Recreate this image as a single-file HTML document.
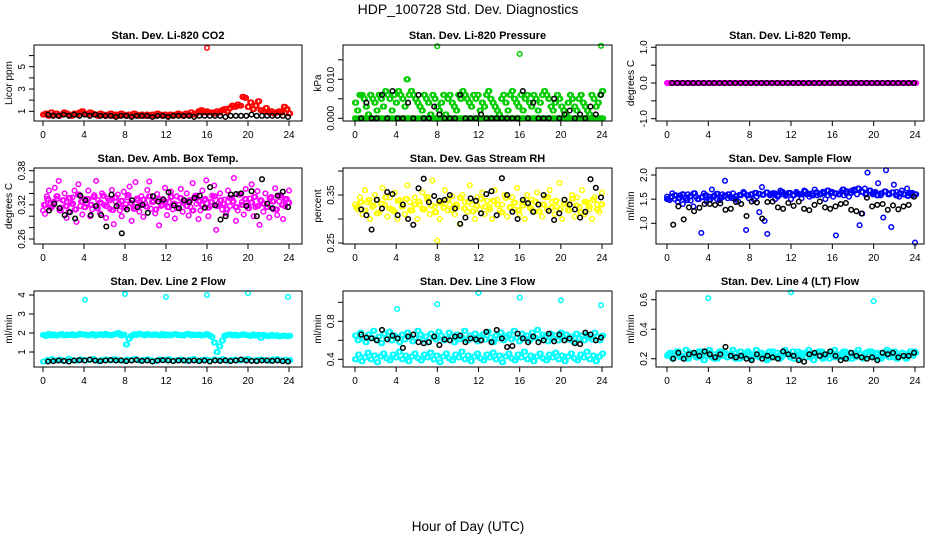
<!DOCTYPE html>
<html><head><meta charset="utf-8"><style>
html,body{margin:0;padding:0;background:#fff;}
svg{display:block;font-family:"Liberation Sans",sans-serif;}
</style></head><body>
<svg id="chart" width="936" height="540" viewBox="0 0 936 540">
<text x="468" y="14" text-anchor="middle" font-size="14">HDP_100728  Std. Dev. Diagnostics</text>
<text x="468" y="531" text-anchor="middle" font-size="13.5">Hour of Day (UTC)</text>
</svg>
<script>
// ---- data ----
const xTicks = [0,4,8,12,16,20,24];
// CO2
const co2Color = [0.7,0.8,0.6,0.9,0.7,0.8,0.6,0.7,0.9,0.8,0.7,0.6,0.8,0.7,0.9,1.0,0.8,0.7,0.9,0.8,0.7,0.6,0.8,0.7,0.6,0.7,0.8,0.6,0.7,0.6,0.8,0.7,0.6,0.7,0.6,0.8,0.7,0.6,0.7,0.6,0.7,0.6,0.7,0.6,0.8,0.7,0.6,0.7,0.6,0.7,0.6,0.7,0.8,0.7,0.6,0.8,0.7,0.9,0.7,0.8,1.0,1.1,0.9,1.0,0.9,0.9,0.8,1.0,0.9,1.1,1.2,1.0,1.3,1.5,1.4,1.6,1.5,2.3,2.2,1.4,1.8,1.2,1.5,1.9,1.1,1.0,1.3,0.9,1.0,0.8,0.9,1.0,0.9,1.4,1.2,0.8];
const co2OutHours = [16.0];
const co2Out = [6.7];
const co2Black = [0.7,0.6,0.6,0.7,0.6,0.7,0.6,0.7,0.6,0.7,0.6,0.6,0.6,0.5,0.6,0.6,0.5,0.6,0.6,0.6,0.5,0.6,0.6,0.5,0.6,0.6,0.6,0.6,0.5,0.6,0.6,0.6,0.6,0.6,0.5,0.6,0.6,0.6,0.6,0.7,0.6,0.6,0.6,0.6,0.6,0.6,0.5];
// Pressure
const presColor = [0.004,0.002,0.006,0.006,0.005,0.003,0.001,0.006,0.005,0.004,0.002,0.006,0.005,0.003,0.007,0.006,0.005,0.002,0.006,0.004,0.007,0.006,0.005,0.003,0.010,0.006,0.007,0.006,0.005,0.004,0.003,0.002,0.006,0.005,0.004,0.001,0.006,0.005,0.003,0.002,0.004,0.006,0.001,0.005,0.006,0.004,0.003,0.002,0.006,0.005,0.007,0.006,0.005,0.004,0.003,0.006,0.005,0.006,0.002,0.004,0.003,0.006,0.007,0.005,0.004,0.003,0.002,0.001,0.005,0.006,0.004,0.002,0.006,0.007,0.005,0.004,0.003,0.006,0.002,0.005,0.006,0.004,0.003,0.006,0.005,0.002,0.004,0.006,0.007,0.006,0.005,0.003,0.002,0.004,0.006,0.005,0.003,0.002,0.001,0.004,0.006,0.005,0.003,0.002,0.005,0.006,0.004,0.003,0.002,0.001,0.006,0.005,0.003,0.004,0.006,0.007];
const presZero = [0,0,0,0,0,0,0,0,0,0,0,0,0,0,0,0,0,0,0,0,0,0,0,0,0,0,0,0,0,0,0,0,0,0,0,0,0,0,0,0,0,0,0,0,0,0,0,0,0,0,0,0,0,0,0,0,0,0,0,0,0,0,0,0,0,0,0,0,0,0,0,0,0,0,0,0,0,0,0,0,0,0,0,0,0,0,0,0,0,0,0,0,0,0,0,0];
const presOutHours = [8.0,16.0,23.9];
const presOut = [0.0185,0.0165,0.0186];
const presBlack = [0,0.004,0,0,0.006,0,0.007,0,0,0.004,0,0.006,0,0,0.003,0.001,0,0,0,0.006,0,0,0,0.001,0,0,0,0,0,0,0,0.007,0,0.004,0,0,0,0.005,0,0.001,0.002,0,0.001,0,0.003,0.001,0.006];
// Li-820 Temp
const tempColor = [0,0,0,0,0,0,0,0,0,0,0,0,0,0,0,0,0,0,0,0,0,0,0,0,0,0,0,0,0,0,0,0,0,0,0,0,0,0,0,0,0,0,0,0,0,0,0,0,0,0,0,0,0,0,0,0,0,0,0,0,0,0,0,0,0,0,0,0,0,0,0,0,0,0,0,0,0,0,0,0,0,0,0,0,0,0,0,0,0,0,0,0,0,0,0,0];
const tempBlack = [0,0,0,0,0,0,0,0,0,0,0,0,0,0,0,0,0,0,0,0,0,0,0,0,0,0,0,0,0,0,0,0,0,0,0,0,0,0,0,0,0,0,0,0,0,0,0];
// Amb box temp
const ambColor = [0.310,0.304,0.335,0.345,0.322,0.318,0.350,0.330,0.362,0.315,0.328,0.340,0.297,0.308,0.325,0.333,0.345,0.290,0.356,0.318,0.303,0.330,0.322,0.345,0.300,0.312,0.337,0.362,0.328,0.305,0.340,0.320,0.297,0.331,0.313,0.346,0.286,0.325,0.338,0.310,0.300,0.343,0.321,0.333,0.352,0.292,0.317,0.360,0.328,0.308,0.335,0.299,0.322,0.346,0.361,0.313,0.327,0.305,0.339,0.284,0.318,0.330,0.350,0.302,0.325,0.343,0.312,0.296,0.335,0.320,0.348,0.308,0.327,0.340,0.301,0.316,0.358,0.334,0.322,0.295,0.310,0.345,0.328,0.363,0.300,0.318,0.336,0.354,0.276,0.322,0.340,0.312,0.329,0.305,0.345,0.318,0.332,0.367,0.292,0.310,0.339,0.325,0.303,0.348,0.319,0.331,0.356,0.300,0.316,0.344,0.285,0.327,0.308,0.340,0.322,0.298,0.334,0.312,0.349,0.302,0.326,0.337,0.295,0.317,0.330,0.345];
const ambColor2 = [0.320,0.330,0.315,0.325,0.335,0.310,0.328,0.318,0.332,0.322,0.312,0.338,0.326,0.316,0.330,0.320,0.334,0.314,0.324,0.336,0.318,0.328,0.311,0.333,0.321,0.327,0.315,0.337,0.323,0.313,0.331,0.319,0.329,0.317,0.335,0.325,0.312,0.330,0.320,0.326,0.316,0.334,0.322,0.314,0.332,0.324,0.318,0.328,0.310,0.336,0.326,0.320,0.330,0.315,0.325,0.335,0.318,0.328,0.322,0.312,0.332,0.326,0.316,0.338,0.320,0.330,0.314,0.324,0.334,0.318,0.328,0.322,0.316,0.332,0.326,0.312,0.336,0.320,0.330,0.324];
const ambBlack = [0.310,0.322,0.314,0.302,0.307,0.296,0.336,0.328,0.302,0.318,0.302,0.282,0.338,0.318,0.270,0.312,0.328,0.316,0.320,0.306,0.335,0.326,0.329,0.342,0.319,0.314,0.328,0.325,0.332,0.336,0.315,0.351,0.319,0.294,0.300,0.338,0.339,0.340,0.318,0.344,0.300,0.365,0.322,0.314,0.336,0.343,0.316];
// Gas stream RH
const rhColor = [0.330,0.320,0.345,0.310,0.360,0.335,0.300,0.325,0.350,0.340,0.315,0.365,0.330,0.305,0.345,0.320,0.355,0.300,0.340,0.325,0.310,0.370,0.335,0.318,0.345,0.300,0.330,0.355,0.320,0.340,0.310,0.380,0.325,0.255,0.300,0.335,0.360,0.318,0.330,0.348,0.310,0.325,0.290,0.350,0.335,0.315,0.370,0.330,0.300,0.345,0.320,0.355,0.310,0.338,0.325,0.300,0.360,0.340,0.318,0.330,0.350,0.305,0.325,0.345,0.320,0.365,0.310,0.335,0.300,0.350,0.325,0.340,0.315,0.355,0.330,0.305,0.345,0.320,0.360,0.335,0.310,0.325,0.375,0.300,0.340,0.330,0.318,0.350,0.305,0.345,0.325,0.360,0.310,0.335,0.320,0.300,0.345,0.330,0.315,0.355];
const rhColor2 = [0.325,0.335,0.318,0.340,0.328,0.312,0.332,0.345,0.322,0.316,0.338,0.326,0.342,0.318,0.330,0.336,0.320,0.346,0.328,0.314,0.334,0.324,0.340,0.318,0.330,0.344,0.322,0.336,0.316,0.328,0.342,0.326,0.320,0.338,0.330,0.314,0.344,0.324,0.334,0.318,0.328,0.340,0.322,0.336,0.316,0.330,0.346,0.324,0.338,0.320,0.332,0.318,0.342,0.328,0.314,0.336,0.326,0.340,0.320,0.330];
const rhBlack = [0.320,0.308,0.278,0.340,0.322,0.356,0.352,0.308,0.330,0.300,0.288,0.364,0.384,0.335,0.348,0.338,0.340,0.350,0.322,0.290,0.303,0.343,0.338,0.312,0.352,0.358,0.308,0.385,0.350,0.315,0.300,0.340,0.333,0.315,0.330,0.350,0.317,0.298,0.312,0.340,0.330,0.320,0.303,0.315,0.383,0.365,0.345];
// Sample flow
const flowColor = [1.55,1.48,1.62,1.50,1.45,1.58,1.40,1.52,1.60,1.47,1.35,1.55,1.50,0.80,1.62,1.45,1.55,1.70,1.58,1.50,1.48,1.60,1.88,1.52,1.55,1.62,1.50,1.45,1.58,1.65,0.86,1.52,1.60,1.48,1.55,1.23,1.75,1.05,0.78,1.58,1.62,1.50,1.55,1.68,1.60,1.57,1.63,1.50,1.58,1.65,1.60,1.52,1.68,1.60,1.55,1.62,1.70,1.58,1.60,1.65,1.50,1.58,1.62,1.55,0.75,1.60,1.65,1.58,1.62,1.55,1.68,1.70,1.60,0.96,1.20,1.72,2.05,1.68,1.60,1.65,1.83,1.58,1.12,2.10,1.62,0.92,1.80,1.65,1.55,1.68,1.60,1.72,1.62,1.58,0.60];
const flowColor2 = [1.50,1.55,1.58,1.52,1.60,1.48,1.56,1.62,1.50,1.54,1.58,1.49,1.55,1.61,1.53,1.57,1.60,1.52,1.56,1.59,1.62,1.58,1.60,1.63,1.61,1.59,1.64,1.60,1.62,1.58,1.65,1.60,1.63,1.58,1.62,1.60,1.66,1.61,1.58,1.64,1.60,1.63,1.68,1.65,1.62,1.60,1.70,1.66,1.63,1.68,1.72,1.65,1.60,1.68,1.63,1.58,1.62,1.66,1.60,1.64,1.58,1.62,1.60,1.57,1.63,1.60];
const flowBlack = [0.97,1.35,1.08,1.33,1.25,1.32,1.40,1.40,1.38,1.41,1.28,1.30,1.44,1.40,1.15,1.45,1.43,1.10,1.44,1.45,1.33,1.30,1.42,1.36,1.45,1.30,1.27,1.38,1.45,1.33,1.30,1.35,1.40,1.42,1.28,1.25,1.20,1.53,1.35,1.38,1.40,1.28,1.37,1.29,1.35,1.38,1.55];
// Line 2 flow
const l2Hi = [1.90,1.85,1.95,1.88,1.92,1.86,1.90,1.94,1.87,1.91,1.89,1.93,1.88,1.90,1.96,1.92,1.92,1.88,1.90,1.94,1.86,1.91,1.93,1.89,1.95,1.90,1.88,1.92,1.96,2.00,1.87,1.91,1.40,1.70,1.85,1.93,1.90,1.97,1.92,1.88,1.94,1.91,1.89,1.93,1.90,1.87,1.95,1.88,1.92,1.88,1.91,1.94,1.89,1.90,1.86,1.93,1.95,1.88,1.91,1.89,1.92,1.87,1.90,1.94,1.88,1.80,1.50,1.00,1.30,1.60,1.85,1.90,1.92,1.88,1.91,1.86,1.89,1.93,1.90,1.88,1.85,1.92,1.87,1.90,1.75,1.89,1.86,1.83,1.90,1.85,1.88,1.82,1.84,1.86,1.83,1.85];
const l2Lo = [0.50,0.58,0.62,0.55,0.60,0.52,0.64,0.57,0.54,0.61,0.56,0.59,0.63,0.53,0.58,0.60,0.55,0.62,0.57,0.54,0.60,0.58,0.63,0.55,0.59,0.61,0.56,0.53,0.60,0.58,0.62,0.55,0.57,0.60,0.54,0.59,0.63,0.56,0.58,0.61,0.55,0.60,0.57,0.62,0.54,0.58,0.60,0.56,0.59,0.63,0.55,0.57,0.61,0.58,0.54,0.60,0.62,0.56,0.59,0.57];
const l2OutHours = [4.1,8.0,12.0,16.0,20.0,23.9];
const l2Out = [3.75,4.05,3.90,4.00,4.10,3.90];
const l2Black = [0.50,0.52,0.55,0.53,0.50,0.55,0.57,0.55,0.60,0.55,0.52,0.55,0.58,0.55,0.56,0.52,0.55,0.58,0.53,0.55,0.50,0.55,0.57,0.55,0.52,0.55,0.56,0.53,0.55,0.52,0.55,0.50,0.55,0.53,0.56,0.52,0.55,0.60,0.55,0.53,0.52,0.55,0.55,0.53,0.55,0.52,0.50];
// Line 3 flow
const l3Hi = [0.65,0.60,0.68,0.62,0.58,0.66,0.63,0.70,0.61,0.64,0.57,0.67,0.62,0.69,0.60,0.65,0.63,0.58,0.66,0.61,0.68,0.64,0.59,0.62,0.70,0.66,0.60,0.64,0.58,0.67,0.63,0.61,0.69,0.65,0.60,0.62,0.68,0.64,0.58,0.66,0.61,0.63,0.70,0.60,0.65,0.62,0.67,0.59,0.64,0.66,0.61,0.69,0.63,0.58,0.65,0.62,0.68,0.60,0.64,0.66,0.61,0.70,0.63,0.59,0.67,0.62,0.65,0.60,0.68,0.63,0.71,0.61,0.66,0.64,0.59,0.67,0.62,0.65,0.60,0.68,0.63,0.66,0.61,0.64,0.58,0.67,0.62,0.65,0.60,0.66,0.63,0.61,0.68,0.64,0.60,0.65];
const l3Lo = [0.40,0.45,0.38,0.42,0.47,0.40,0.44,0.37,0.43,0.46,0.41,0.39,0.45,0.42,0.48,0.40,0.44,0.38,0.43,0.46,0.41,0.39,0.45,0.42,0.47,0.40,0.44,0.37,0.43,0.46,0.41,0.39,0.45,0.42,0.48,0.40,0.44,0.38,0.43,0.46,0.41,0.39,0.45,0.42,0.47,0.40,0.44,0.37,0.43,0.46,0.41,0.39,0.45,0.42,0.48,0.40,0.44,0.38,0.43,0.46,0.41,0.39,0.45,0.42,0.47,0.40,0.44,0.38,0.43,0.46,0.41,0.39,0.45,0.42,0.48,0.40,0.44,0.38,0.43,0.46];
const l3OutHours = [4.1,8.0,12.0,16.0,20.0,23.9];
const l3Out = [0.93,0.98,1.10,1.05,1.02,0.97];
const l3Black = [0.66,0.63,0.62,0.60,0.71,0.61,0.65,0.62,0.52,0.64,0.66,0.58,0.57,0.58,0.64,0.55,0.61,0.60,0.64,0.65,0.58,0.62,0.61,0.60,0.69,0.58,0.71,0.62,0.53,0.54,0.67,0.62,0.58,0.64,0.58,0.60,0.67,0.59,0.66,0.60,0.62,0.57,0.56,0.68,0.66,0.60,0.63];
// Line 4 flow
const l4Color = [0.22,0.24,0.20,0.23,0.25,0.21,0.22,0.26,0.20,0.24,0.23,0.21,0.25,0.22,0.19,0.24,0.26,0.21,0.23,0.20,0.25,0.22,0.24,0.21,0.23,0.26,0.20,0.22,0.25,0.21,0.24,0.22,0.20,0.23,0.26,0.21,0.24,0.22,0.19,0.25,0.23,0.21,0.24,0.20,0.22,0.26,0.23,0.21,0.25,0.22,0.20,0.24,0.23,0.21,0.26,0.22,0.19,0.24,0.22,0.25,0.21,0.23,0.20,0.24,0.26,0.22,0.21,0.23,0.25,0.20,0.24,0.22,0.21,0.26,0.23,0.20,0.24,0.22,0.25,0.21,0.23,0.20,0.24,0.22,0.26,0.21,0.23,0.25,0.20,0.22,0.24,0.21,0.23,0.25,0.22,0.24];
const l4Color2 = [0.23,0.21,0.25,0.22,0.20,0.24,0.23,0.21,0.25,0.22,0.24,0.20,0.23,0.25,0.21,0.22,0.24,0.20,0.23,0.25,0.21,0.22,0.24,0.23,0.20,0.25,0.22,0.21,0.24,0.23,0.20,0.25,0.22,0.24,0.21,0.23,0.25,0.20,0.22,0.24,0.21,0.23,0.25,0.22,0.20,0.24,0.23,0.21,0.25,0.22,0.24,0.20,0.23,0.25,0.21,0.22,0.24,0.20,0.23,0.25];
const l4OutHours = [4.0,12.0,20.0];
const l4Out = [0.61,0.65,0.59];
const l4Black = [0.20,0.24,0.20,0.23,0.24,0.22,0.25,0.23,0.21,0.23,0.28,0.22,0.21,0.22,0.20,0.19,0.23,0.20,0.22,0.21,0.20,0.25,0.23,0.22,0.19,0.18,0.23,0.24,0.22,0.23,0.25,0.22,0.19,0.20,0.24,0.22,0.21,0.20,0.21,0.19,0.24,0.23,0.24,0.21,0.22,0.22,0.24];

// ---- drawing ----
const NS = 'http://www.w3.org/2000/svg';
const svg = document.getElementById('chart');
function mk(tag, attrs, parent){
  const e = document.createElementNS(NS, tag);
  for (const k in attrs) e.setAttribute(k, attrs[k]);
  parent.appendChild(e);
  return e;
}
function spread(arr, start, end){ const n = arr.length; return arr.map((_, i) => start + i * (end - start) / (n - 1)); }

const cols = [
  {l:34, r:302, x0:43, x24:289},
  {l:343, r:612, x0:355, x24:602},
  {l:656, r:924, x0:667, x24:915}
];
const rows = [{t:45,b:121},{t:168,b:244},{t:291,b:367}];

const panels = [
  {name:'co2', title:'Stan. Dev. Li-820 CO2', ylab:'Licor ppm', c:0, r:0, ymin:0.13, ymax:6.95,
   yt:[1,2,3,4,5,6], yl:['1','','3','','5',''],
   series:[{xs:spread(co2Color,0,24), ys:co2Color, col:'#ff0000', dense:true},{xs:co2OutHours, ys:co2Out, col:'#ff0000'},{xs:spread(co2Black,0.5,23.9), ys:co2Black, col:'#000'}]},
  {name:'pressure', title:'Stan. Dev. Li-820 Pressure', ylab:'kPa', c:1, r:0, ymin:-0.0007, ymax:0.0188,
   yt:[0,0.005,0.010,0.015], yl:['0.000','','0.010',''],
   series:[{xs:spread(presZero,0,24), ys:presZero, col:'#00cc00', dense:true},{xs:spread(presColor,0,24), ys:presColor, col:'#00cc00', dense:true},{xs:presOutHours, ys:presOut, col:'#00cc00'},{xs:spread(presBlack,0.6,23.9), ys:presBlack, col:'#000'}]},
  {name:'li820-temp', title:'Stan. Dev. Li-820 Temp.', ylab:'degrees C', c:2, r:0, ymin:-1.064, ymax:1.064,
   yt:[-1,-0.5,0,0.5,1], yl:['-1.0','','0.0','','1.0'],
   series:[{xs:spread(tempColor,0,24), ys:tempColor, col:'#ff00ff', dense:true},{xs:spread(tempBlack,0.5,23.9), ys:tempBlack, col:'#000'}]},
  {name:'amb-box-temp', title:'Stan. Dev. Amb. Box Temp.', ylab:'degrees C', c:0, r:1, ymin:0.2512, ymax:0.3847,
   yt:[0.26,0.28,0.30,0.32,0.34,0.36,0.38], yl:['0.26','','','0.32','','','0.38'],
   series:[{xs:spread(ambColor,0,24), ys:ambColor, col:'#ff00ff'},{xs:spread(ambColor2,0.1,23.9), ys:ambColor2, col:'#ff00ff', dense:true},{xs:spread(ambBlack,0.6,23.9), ys:ambBlack, col:'#000'}]},
  {name:'gas-stream-rh', title:'Stan. Dev. Gas Stream RH', ylab:'percent', c:1, r:1, ymin:0.248, ymax:0.4063,
   yt:[0.25,0.30,0.35,0.40], yl:['0.25','','0.35',''],
   series:[{xs:spread(rhColor,0,24), ys:rhColor, col:'#ffff00'},{xs:spread(rhColor2,0.1,23.9), ys:rhColor2, col:'#ffff00', dense:true},{xs:spread(rhBlack,0.6,23.9), ys:rhBlack, col:'#000'}]},
  {name:'sample-flow', title:'Stan. Dev. Sample Flow', ylab:'ml/min', c:2, r:1, ymin:0.571, ymax:2.145,
   yt:[1.0,1.5,2.0], yl:['1.0','1.5','2.0'],
   series:[{xs:spread(flowColor,0,24), ys:flowColor, col:'#0000ff'},{xs:spread(flowColor2,0,24), ys:flowColor2, col:'#0000ff', dense:true},{xs:spread(flowBlack,0.6,23.9), ys:flowBlack, col:'#000'}]},
  {name:'line2-flow', title:'Stan. Dev. Line 2 Flow', ylab:'ml/min', c:0, r:2, ymin:0.21, ymax:4.21,
   yt:[1,2,3,4], yl:['1','2','3','4'],
   series:[{xs:spread(l2Hi,0,24), ys:l2Hi, col:'#00ffff', dense:true},{xs:spread(l2Lo,0,24), ys:l2Lo, col:'#00ffff', dense:true},{xs:l2OutHours, ys:l2Out, col:'#00ffff'},{xs:spread(l2Black,0.5,23.9), ys:l2Black, col:'#000'}]},
  {name:'line3-flow', title:'Stan. Dev. Line 3 Flow', ylab:'ml/min', c:1, r:2, ymin:0.319, ymax:1.119,
   yt:[0.4,0.6,0.8,1.0], yl:['0.4','','0.8',''],
   series:[{xs:spread(l3Lo,0,24), ys:l3Lo, col:'#00ffff', dense:true},{xs:spread(l3Hi,0,24), ys:l3Hi, col:'#00ffff', dense:true},{xs:l3OutHours, ys:l3Out, col:'#00ffff'},{xs:spread(l3Black,0.6,23.9), ys:l3Black, col:'#000'}]},
  {name:'line4-flow', title:'Stan. Dev. Line 4 (LT) Flow', ylab:'ml/min', c:2, r:2, ymin:0.144, ymax:0.659,
   yt:[0.2,0.4,0.6], yl:['0.2','0.4','0.6'],
   series:[{xs:spread(l4Color,0,24), ys:l4Color, col:'#00ffff', dense:true},{xs:spread(l4Color2,0.1,23.9), ys:l4Color2, col:'#00ffff', dense:true},{xs:l4OutHours, ys:l4Out, col:'#00ffff'},{xs:spread(l4Black,0.6,23.9), ys:l4Black, col:'#000'}]}
];

panels.forEach(p => {
  const C = cols[p.c], R = rows[p.r];
  const xs = h => C.x0 + h * (C.x24 - C.x0) / 24;
  const ys = v => R.b - (v - p.ymin) / (p.ymax - p.ymin) * (R.b - R.t);
  const g = mk('g', {}, svg);
  
  
  const t = mk('text', {x:(C.l + C.r) / 2, y:R.t - 6, 'text-anchor':'middle', 'font-size':11, 'font-weight':'bold'}, g);
  t.textContent = p.title;
  
  
  // points
  const pts = mk('g', {fill:'none', 'stroke-width':1.5}, g);
  
  
  p.series.forEach(s => {
    const passes = s.dense ? [0, 0.12] : [0];
    passes.forEach(off => {
      s.ys.forEach((v, i) => {
        const c = mk('circle', {cx:xs(s.xs[i] + off).toFixed(1), cy:ys(v).toFixed(1), r:2.3, stroke:s.col}, pts);
        
        
      });
    });
  });
  // box
  const box = mk('rect', {x:C.l, y:R.t, width:C.r - C.l, height:R.b - R.t, fill:'none', stroke:'#000', 'stroke-width':1}, g);
  
  
  // x axis
  const xa = mk('g', {}, g);
  
  
  mk('line', {x1:xs(0), x2:xs(24), y1:R.b, y2:R.b, stroke:'#000'}, xa);
  xTicks.forEach(h => {
    mk('line', {x1:xs(h), x2:xs(h), y1:R.b, y2:R.b + 5, stroke:'#000'}, xa);
    const tl = mk('text', {x:xs(h), y:R.b + 17, 'text-anchor':'middle', 'font-size':10}, xa);
    tl.textContent = h;
    
    
  });
  // y axis
  const ya = mk('g', {}, g);
  
  
  mk('line', {x1:C.l, x2:C.l, y1:ys(p.yt[0]), y2:ys(p.yt[p.yt.length - 1]), stroke:'#000'}, ya);
  p.yt.forEach((v, i) => {
    const y = ys(v);
    mk('line', {x1:C.l - 5, x2:C.l, y1:y, y2:y, stroke:'#000'}, ya);
    if (p.yl[i]) {
      const tl = mk('text', {x:0, y:0, 'text-anchor':'middle', 'font-size':10, transform:`translate(${C.l - 9},${y}) rotate(-90)`}, ya);
      tl.textContent = p.yl[i];
      
      
    }
  });
  const yt = mk('text', {x:0, y:0, 'text-anchor':'middle', 'font-size':10, transform:`translate(${C.l - 22},${(R.t + R.b) / 2}) rotate(-90)`}, ya);
  yt.textContent = p.ylab;
  
  
});
</script>
</body></html>
